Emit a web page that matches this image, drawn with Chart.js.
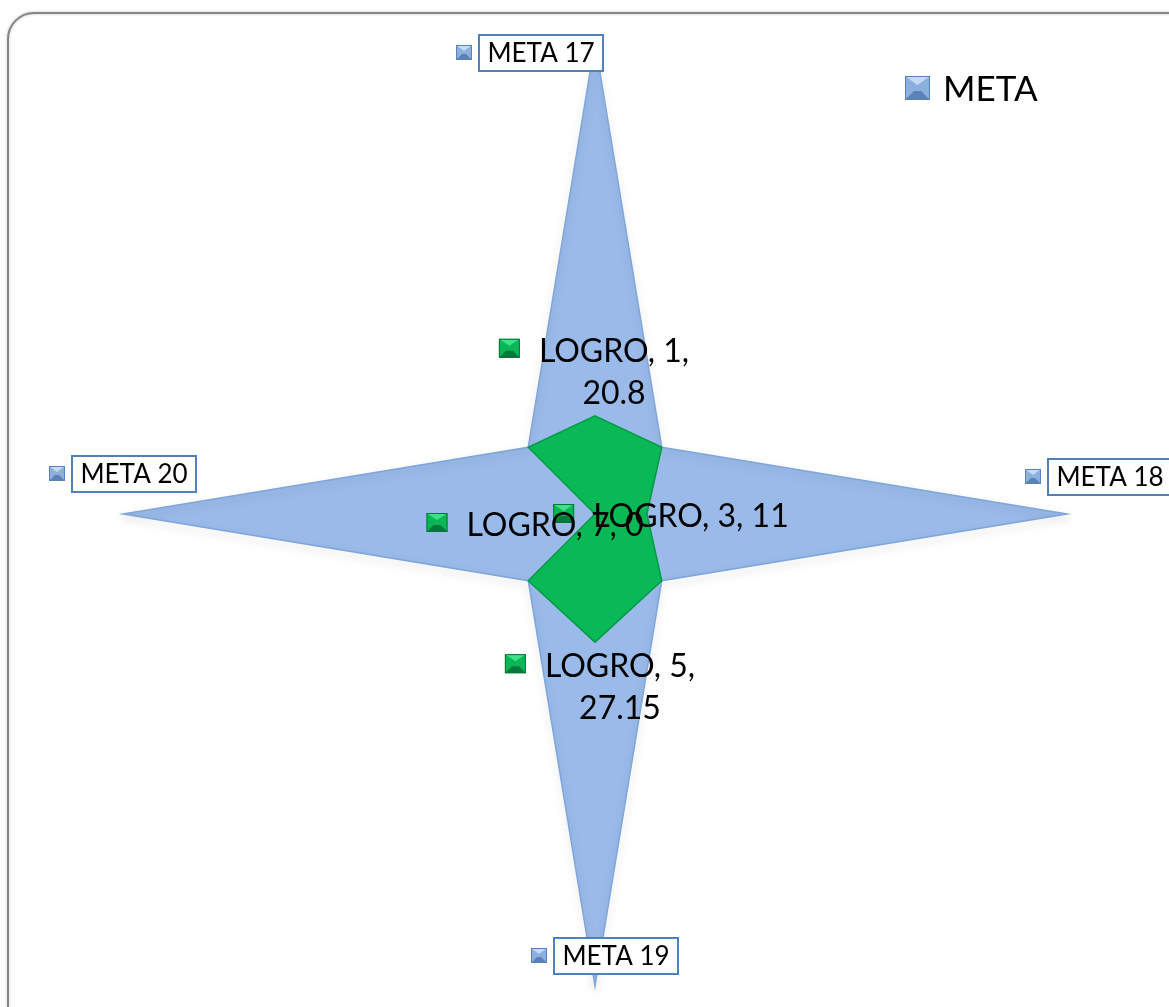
<!DOCTYPE html>
<html>
<head>
<meta charset="utf-8">
<script src="https://cdn.jsdelivr.net/npm/chart.js@4.4.1/dist/chart.umd.min.js"></script>
<style>
  body { margin: 0; background: #fff; }
  canvas { display: block; }
</style>
</head>
<body>
<canvas id="radarChart" width="1169" height="1007"></canvas>
<script>
const categories = ['1', '2', '3', '4', '5', '6', '7', '8'];
const metaValues = [100, 20, 100, 20, 100, 20, 100, 20];
const logroValues = [20.8, 20, 11, 20, 27.15, 20, 0, 20];
const metaLabels = ['META 17', '', 'META 18', '', 'META 19', '', 'META 20', ''];
const logroLabelShown = [true, false, true, false, true, false, true, false];

// label offsets from their point (px)
const metaLabelOffsets = [[-54, 11], null, [43, -37], null, [21, -30], null, [11, -40], null];
const logroLabelOffsets = [[19, -64], null, [44, 3], null, [25, 25], null, [-40, 12], null];
const logroWrap = [true, false, false, false, true, false, false, false];

const FONT = 'Lato, "Open Sans", sans-serif';

function bevelIcon(ctx, x, y, w, h, light, mid, dark) {
    const b = Math.round(w * 0.35);
    ctx.save();
    ctx.fillStyle = mid;
    ctx.fillRect(x, y, w, h);
    ctx.fillStyle = light;
    ctx.beginPath();
    ctx.moveTo(x, y); ctx.lineTo(x + w, y); ctx.lineTo(x + w / 2, y + b);
    ctx.closePath(); ctx.fill();
    ctx.fillStyle = dark;
    ctx.beginPath();
    ctx.moveTo(x, y + h); ctx.lineTo(x + w, y + h); ctx.lineTo(x + w - b, y + h - b); ctx.lineTo(x + b, y + h - b);
    ctx.closePath(); ctx.fill();
    ctx.strokeStyle = dark;
    ctx.lineWidth = 1;
    ctx.strokeRect(x + 0.5, y + 0.5, w - 1, h - 1);
    ctx.restore();
}

const framePlugin = {
    id: 'frame',
    beforeDraw(chart) {
        const ctx = chart.ctx;
        ctx.save();
        ctx.fillStyle = '#fff';
        ctx.fillRect(0, 0, chart.width, chart.height);
        ctx.strokeStyle = '#858585';
        ctx.lineWidth = 2;
        ctx.shadowColor = 'rgba(0,0,0,0.25)';
        ctx.shadowBlur = 3;
        ctx.beginPath();
        ctx.roundRect(8, 13, 1200, 1030, 26);
        ctx.stroke();
        ctx.restore();
    },
    beforeDatasetDraw(chart, args) {
        if (args.index !== 0) return;
        const ctx = chart.ctx;
        ctx.save();
        ctx.shadowColor = 'rgba(0,0,0,0.22)';
        ctx.shadowBlur = 8;
        ctx.shadowOffsetY = 4;
    },
    afterDatasetDraw(chart, args) {
        if (args.index !== 0) return;
        chart.ctx.restore();
    }
};

const labelPlugin = {
    id: 'excelLabels',
    afterDatasetsDraw(chart) {
        const ctx = chart.ctx;
        const scale = chart.scales.r;
        ctx.save();
        ctx.textBaseline = 'middle';

        // META labels in boxes
        ctx.font = '26px ' + FONT;
        metaLabels.forEach((txt, i) => {
            if (!txt) return;
            const p = scale.getPointPositionForValue(i, metaValues[i]);
            const cx = p.x + metaLabelOffsets[i][0];
            const cy = p.y + metaLabelOffsets[i][1];
            const w = 124, h = 36;
            ctx.fillStyle = '#fff';
            ctx.fillRect(cx - w / 2, cy - h / 2, w, h);
            ctx.strokeStyle = '#4f81bd';
            ctx.lineWidth = 2;
            ctx.strokeRect(cx - w / 2, cy - h / 2, w, h);
            ctx.fillStyle = '#000';
            ctx.textAlign = 'center';
            ctx.fillText(txt, cx, cy + 1);
            bevelIcon(ctx, cx - w / 2 - 23, cy - 8, 16, 15, '#c6daf3', '#8cb0de', '#5a82b8');
        });

        // LOGRO labels
        ctx.font = '32px ' + FONT;
        logroValues.forEach((v, i) => {
            if (!logroLabelShown[i]) return;
            const p = scale.getPointPositionForValue(i, v);
            const cx = p.x + logroLabelOffsets[i][0];
            const cy = p.y + logroLabelOffsets[i][1];
            ctx.fillStyle = '#000';
            ctx.textAlign = 'center';
            let first;
            if (logroWrap[i]) {
                first = 'LOGRO, ' + categories[i] + ',';
                ctx.fillText(first, cx, cy);
                ctx.fillText(String(v), cx, cy + 42);
            } else {
                first = 'LOGRO, ' + categories[i] + ', ' + v;
                ctx.fillText(first, cx, cy);
            }
            const tw = ctx.measureText(first).width;
            bevelIcon(ctx, cx - tw / 2 - 40, cy - 13, 21, 19, '#3fe08a', '#0bb654', '#04783a');
        });

        // legend
        bevelIcon(ctx, 905, 76, 25, 24, '#c6daf3', '#8cb0de', '#5a82b8');
        ctx.font = '35px ' + FONT;
        ctx.textAlign = 'left';
        ctx.fillStyle = '#000';
        ctx.fillText('META', 943, 90);
        ctx.restore();
    }
};

const ctx = document.getElementById('radarChart').getContext('2d');
new Chart(ctx, {
    type: 'radar',
    data: {
        labels: categories,
        datasets: [{
            label: 'META',
            data: metaValues,
            backgroundColor: '#9abbea',
            borderColor: '#7fa5da',
            borderWidth: 1.5,
            pointRadius: 0,
            order: 2
        }, {
            label: 'LOGRO',
            data: logroValues,
            backgroundColor: '#09b955',
            borderColor: '#049a45',
            borderWidth: 1.5,
            pointRadius: 0,
            order: 1
        }]
    },
    options: {
        responsive: false,
        maintainAspectRatio: false,
        animation: false,
        layout: { padding: { left: 123, right: 101, top: 42, bottom: 21 } },
        scales: {
            r: {
                min: 0,
                max: 100,
                ticks: { display: false },
                grid: { display: false },
                angleLines: { display: false },
                pointLabels: { display: false }
            }
        },
        plugins: {
            legend: { display: false },
            tooltip: { enabled: false }
        }
    },
    plugins: [framePlugin, labelPlugin]
});
</script>
</body>
</html>
